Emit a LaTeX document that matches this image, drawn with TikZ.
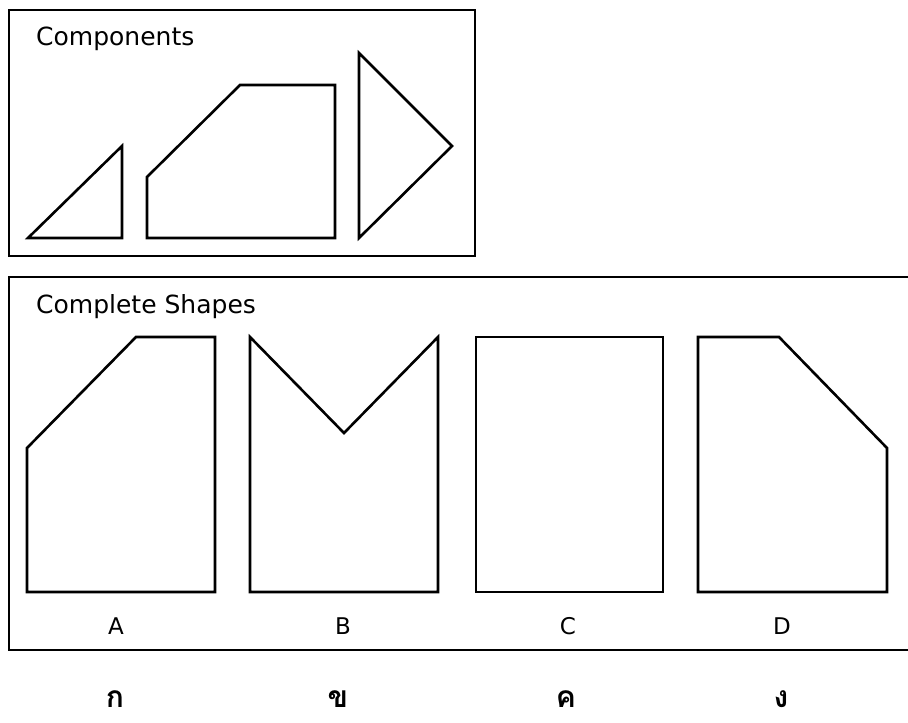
\documentclass[tikz,border=0pt]{standalone}
\usepackage{fontspec}
\setmainfont{DejaVu Sans}
\newfontfamily\thaifont[Script=Thai]{Loma}
\begin{document}
\begin{tikzpicture}[x=1pt,y=-1pt,
  outline/.style={draw=black,line width=2.6pt,line join=miter},
  frame/.style={draw=black,line width=2.6pt},
  heading/.style={anchor=base west,inner sep=0pt,font=\fontsize{25}{29}\selectfont},
  letter/.style={anchor=base,inner sep=0pt,font=\fontsize{23}{26}\selectfont},
  thai/.style={anchor=base,inner sep=0pt,font=\thaifont\bfseries\fontsize{30}{33}\selectfont}]
\useasboundingbox (0,0) rectangle (908,723);
\fill[white] (0,0) rectangle (908,723);

% upper panel: the three component pieces
\draw[frame] (9,10) rectangle (475,256);
\node[heading] (comp) at (36,45) {Components};
\draw[outline] (28,238) -- (122,146) -- (122,238) -- cycle;
\draw[outline] (147,238) -- (147,177) -- (240,85) -- (335,85) -- (335,238) -- cycle;
\draw[outline] (359,53) -- (452,146) -- (359,238) -- cycle;

% lower panel: the candidate shapes (runs off the right edge)
\draw[frame] (912,277) -- (9,277) -- (9,650) -- (912,650);
\node[heading] (full) at (36,313) {Complete Shapes};
\draw[outline] (27,592) -- (27,448) -- (136,337) -- (215,337) -- (215,592) -- cycle;
\draw[outline] (250,592) -- (250,337) -- (344,433) -- (438,337) -- (438,592) -- cycle;
\draw[outline] (476,337) rectangle (663,592);
\draw[outline] (698,592) -- (698,337) -- (779,337) -- (887,448) -- (887,592) -- cycle;

\node[letter] (la) at (116,634) {A};
\node[letter] (lb) at (343,634) {B};
\node[letter] (lc) at (568,634) {C};
\node[letter] (ld) at (782,634) {D};

% Thai answer labels
\node[thai] (ta) at (115,707) {ก};
\node[thai] (tb) at (338,707) {ข};
\node[thai] (tc) at (566,707) {ค};
\node[thai] (td) at (781,707) {ง};
\end{tikzpicture}
\end{document}
